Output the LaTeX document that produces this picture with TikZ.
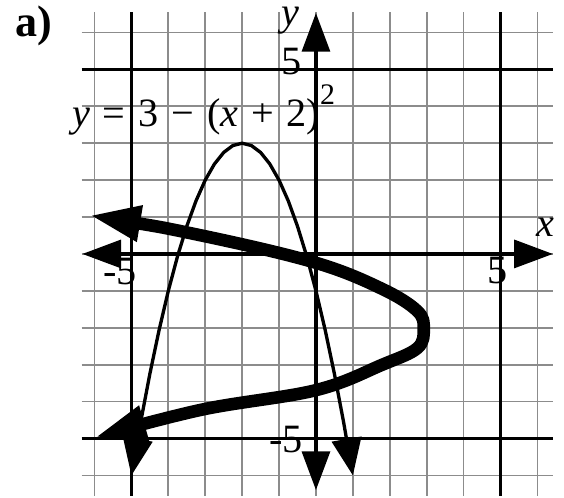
\documentclass[tikz,border=0pt]{standalone}
\usepackage{fontspec}
\setmainfont{Liberation Serif}
\usepackage{tikz}
\usetikzlibrary{arrows.meta, calc}

\newcommand{\gap}{\hspace{0.32em}}

\begin{document}
\begin{tikzpicture}[
    gridline/.style={draw=black!45, line width=0.045cm},
    boldline/.style={draw=black, line width=0.08cm},
    axis/.style={draw=black, line width=0.11cm, {Triangle[length=1.05cm, width=0.75cm]}-{Triangle[length=1.05cm, width=0.75cm]}},
    parab/.style={draw=black, line width=0.09cm, {Triangle[length=1.0cm, width=0.8cm]}-{Triangle[length=1.0cm, width=0.8cm]}},
    inverse/.style={draw=black, line width=0.34cm, line join=round, {Triangle[length=1.4cm, width=0.9cm]}-{Triangle[length=1.4cm, width=0.9cm]}},
    lbl/.style={font=\fontsize{31}{35}\selectfont, inner sep=0pt}
]
\useasboundingbox (-8.56,-6.61) rectangle (6.72,6.88);

% grid
\foreach \i in {-6,...,6} {
    \draw[gridline] (\i,-6.55) -- (\i,6.55);
    \draw[gridline] (-6.35,\i) -- (6.42,\i);
}
\foreach \i in {-5,5} {
    \draw[boldline] (\i,-6.55) -- (\i,6.55);
    \draw[boldline] (-6.35,\i) -- (6.42,\i);
}

% axes
\draw[axis] (-6.33,0) -- (6.42,0);
\draw[axis] (0,-6.4) -- (0,6.53);

% curves
\draw[parab] plot[domain=-5:1, samples=25] (\x, {3-(\x+2)^2});
\draw[inverse] plot[smooth, tension=0.6] coordinates {(-6.15,1.05) (-3.1,0.5) (0,-0.24) (1.8,-0.95) (2.75,-1.55) (2.92,-2.03) (2.75,-2.55) (1.8,-3.0) (0,-3.69) (-3.1,-4.22) (-6.0,-4.97)};

% labels
\node[lbl, font=\fontsize{34}{38}\selectfont\bfseries, anchor=base west] (part) at (-8.16,5.88) {a)};
\node[lbl, anchor=base west] (eq) at (-6.61,3.44)
    {\textit{y}\gap=\gap3\gap−\gap(\textit{x}\gap+\gap2)\raisebox{0.55em}{\fontsize{23}{23}\selectfont 2}};
\node[lbl, anchor=base] (ylbl) at (-0.68,6.2) {\textit{y}};
\node[lbl, anchor=base] (xlbl) at (6.23,0.46) {\textit{x}};
\node[lbl, anchor=base] (ytop) at (-0.66,4.85) {5};
\node[lbl, anchor=base] (xright) at (4.93,-0.79) {5};
\node[lbl, anchor=base] (xleft) at (-5.31,-0.84) {-5};
\node[lbl, anchor=base east] (ybot) at (-0.35,-5.37) {-5};
\end{tikzpicture}
\end{document}
